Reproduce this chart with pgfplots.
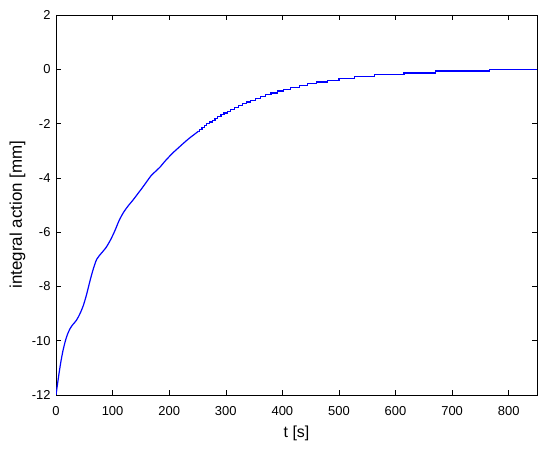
\documentclass[border=0pt]{standalone}
\usepackage{fontspec}
\setmainfont{Liberation Sans}
\usepackage{pgfplots}
\pgfplotsset{compat=1.18}
\definecolor{mblue}{RGB}{0,0,255}
\begin{document}
\fontsize{13}{15}\selectfont
\begin{tikzpicture}[x=1bp,y=1bp]
\path[use as bounding box] (0,0) rectangle (550,451);
\begin{axis}[
  at={(56bp,56bp)}, anchor=south west,
  scale only axis,
  width=481bp, height=380bp,
  xmin=0, xmax=850, ymin=-12, ymax=2,
  xtick={0,100,...,800},
  ytick={-12,-10,...,2},
  tick align=inside,
  major tick length=5bp,
  tick style={black, line width=0.5pt},
  axis line style={black, line width=0.6pt},
  /pgf/number format/assume math mode=true,
  /pgf/number format/1000 sep={},
  xticklabel style={yshift=-7bp},
  yticklabel style={xshift=-1bp},
  xlabel={t [s]},
  ylabel={integral action [mm]},
  xlabel style={at={(axis description cs:0.5,0)}, anchor=center,
                yshift=-38bp, font=\fontsize{16}{18}\selectfont},
  ylabel style={at={(axis description cs:0,0.475)}, anchor=center,
                yshift=38.5bp, font=\fontsize{17}{19}\selectfont},
  clip=true,
]
% continuous part of the response
\addplot[mblue, line width=1.2pt, smooth] coordinates {
(0,-12) (4,-11.4) (8,-10.85) (12,-10.4) (16,-10.05) (20,-9.78) (25,-9.55)
(30,-9.4) (36,-9.25) (42,-9.02) (48,-8.72) (54,-8.3) (60,-7.8) (66,-7.35)
(72,-7.0) (80,-6.78) (88,-6.58) (96,-6.3) (104,-5.95) (112,-5.55) (120,-5.25)
(128,-5.02) (136,-4.82) (144,-4.6) (152,-4.38) (160,-4.15) (168,-3.92)
(176,-3.76) (184,-3.6) (192,-3.4) (200,-3.22) (207,-3.07) (216,-2.9)
(225,-2.73) (235,-2.55) (245,-2.39) (252,-2.28)
};
% quantised tail
\addplot[mblue, line width=1.2pt, const plot] coordinates {
(252,-2.278) (254,-2.211) (258,-2.144) (262,-2.077) (266.6,-2.010) (271,-1.943)
(276,-1.876) (281,-1.809) (286,-1.742) (291.5,-1.675) (297,-1.608) (303,-1.541)
(309,-1.474) (315,-1.407) (322,-1.340) (329,-1.273) (336,-1.206) (344,-1.139)
(352,-1.072) (361,-1.005) (370,-0.938) (380,-0.871) (391,-0.804) (402,-0.737)
(415,-0.670) (431,-0.603) (445,-0.536) (460,-0.469) (480,-0.402) (500,-0.335)
(528,-0.268) (563,-0.201) (615,-0.134) (670,-0.067) (766,0) (850,0)
};
\end{axis}
\end{tikzpicture}
\end{document}
